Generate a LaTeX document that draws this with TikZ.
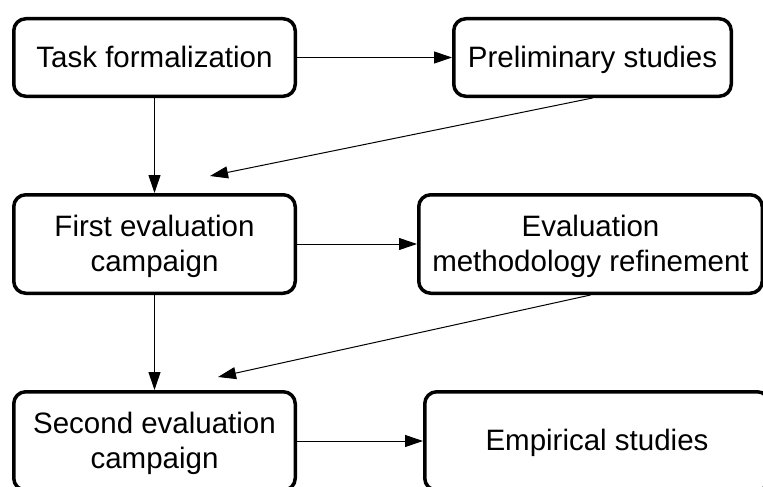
\documentclass[tikz,border=0pt]{standalone}
\usepackage{fontspec}
\setmainfont{Liberation Sans}
\usetikzlibrary{arrows.meta}
\newcommand{\mystrut}{\rule[-6pt]{0pt}{32pt}}
\begin{document}
\begin{tikzpicture}[x=1pt,y=-1pt,
  box/.style={draw=black, line width=3.5pt, rounded corners=12pt, fill=white,
    inner sep=0pt, align=center, font=\fontsize{29.5}{35}\selectfont},
  conn/.style={line width=1pt, -{Triangle[length=18pt,width=12pt]}}]
\useasboundingbox (0,0) rectangle (763,487);
\clip (0,0) rectangle (763,487);
\node[box, minimum width=281.5pt, minimum height=77.5pt] (b1) at (154.5,57.5) {\mystrut Task formalization};
\node[box, minimum width=277.5pt, minimum height=77.5pt] (b2) at (592.5,57.5) {\mystrut Preliminary studies};
\node[box, minimum width=281.5pt, minimum height=98.5pt] (b3) at (154.5,244) {\mystrut First evaluation\\\mystrut campaign};
\node[box, minimum width=343.5pt, minimum height=98.5pt] (b4) at (590.5,244) {\mystrut Evaluation\\\mystrut methodology refinement};
\node[box, minimum width=281.5pt, minimum height=98.5pt] (b5) at (154.5,441) {\mystrut Second evaluation\\\mystrut campaign};
\node[box, minimum width=344.5pt, minimum height=98.5pt] (b6) at (597,441) {\mystrut Empirical studies};
\coordinate (c1) at (210,176);
\coordinate (c2) at (218,377);
\draw[conn] (b1.east) -- (b2.west);
\draw[conn] (b1.south) -- (b3.north);
\draw[conn] (b2.south) -- (c1);
\draw[conn] (b3.east) -- (b4.west);
\draw[conn] (b3.south) -- (b5.north);
\draw[conn] (b4.south) -- (c2);
\draw[conn] (b5.east) -- (b6.west);
\end{tikzpicture}
\end{document}
